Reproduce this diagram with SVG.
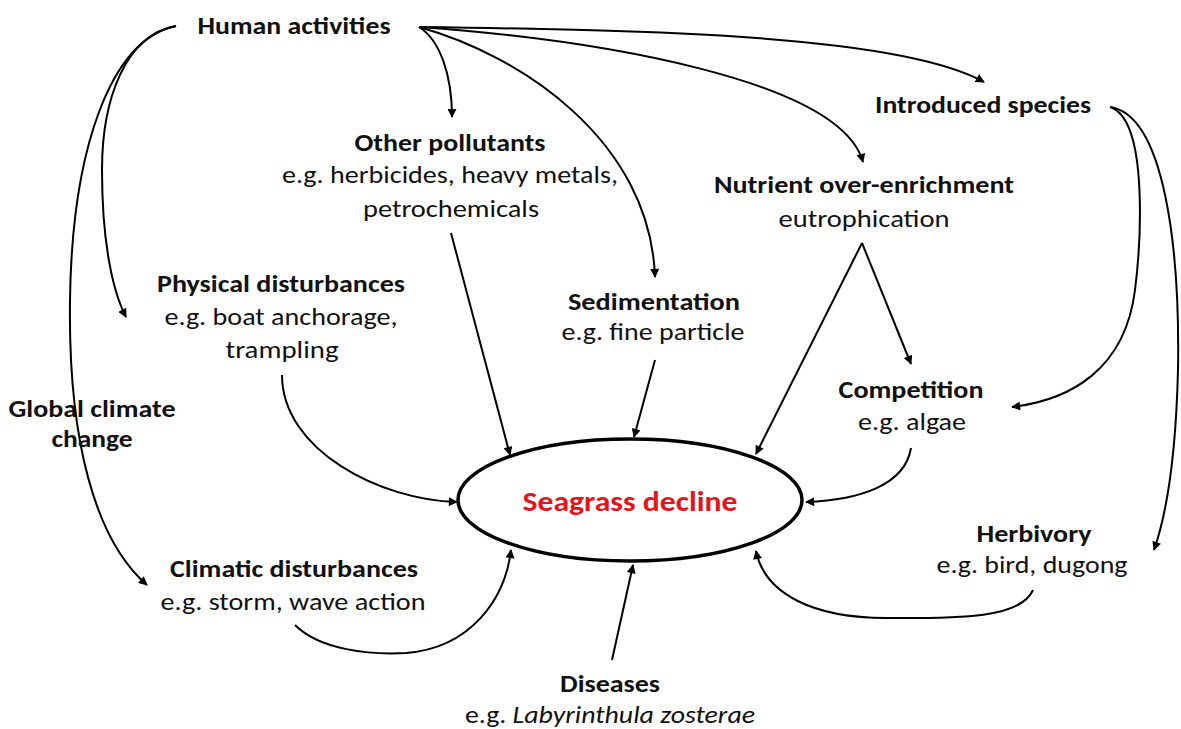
<svg xmlns="http://www.w3.org/2000/svg" width="1181" height="729" viewBox="0 0 1181 729">
<style>
text{font-family:Carlito,Lato,"Open Sans",sans-serif;font-size:25px;fill:#111;text-anchor:middle}
.b{font-weight:bold}
.red{fill:#e3141c;font-size:28px}
.c{fill:none;stroke:#000;stroke-width:2;marker-end:url(#arr)}
.bg{fill:#fff}
</style>
<defs>
<marker id="arr" viewBox="0 0 10 10" refX="9" refY="5" markerWidth="10" markerHeight="9" orient="auto" markerUnits="userSpaceOnUse">
<path d="M0,0 L10,5 L0,10 z" fill="#000"/>
</marker>
</defs>
<rect width="1181" height="729" fill="#fff"/>
<g id="connectors">
<path class="c" d="M419,27 C440,40 452,75 452,117"/>
<path class="c" d="M419,27 C520,55 650,140 655,277"/>
<path class="c" d="M419,27 C600,40 840,80 863,162"/>
<path class="c" d="M419,27 C650,30 900,35 984,82"/>
<path class="c" d="M176,26 C125,35 102,100 102,170 C102,240 112,290 126,317"/>
<path class="c" d="M176,26 C110,40 72,150 70,300 C68,440 95,540 147,585"/>
<path class="c" d="M1110,107 C1150,120 1140,250 1135,290 C1125,370 1070,400 1012,407"/>
<path class="c" d="M1110,107 C1165,115 1180,250 1178,370 C1176,450 1168,510 1154,550"/>
<path class="c" d="M862,243 L756,454"/>
<path class="c" d="M862,243 L911,364"/>
<path class="c" d="M451,233 L510,455"/>
<path class="c" d="M655,360 L634,437"/>
<path class="c" d="M282,375 C282,450 380,500 457,502"/>
<path class="c" d="M911,448 C905,485 860,500 806,502"/>
<path class="c" d="M1033,590 C1020,620 950,618 886,618 C815,618 765,595 756,551"/>
<path class="c" d="M295,625 C320,650 370,655 406,653 C470,648 505,600 511,550"/>
<path class="c" d="M612,660 L633,565"/>
</g>
<g id="seagrass-decline">
<ellipse cx="630" cy="500" rx="172" ry="61" fill="#fff" stroke="#000" stroke-width="3.5"/>
<text class="b red" x="630" y="511" textLength="215" lengthAdjust="spacingAndGlyphs">Seagrass decline</text>
</g>
<g id="human-activities">
<text class="b" x="294" y="34" textLength="193" lengthAdjust="spacingAndGlyphs">Human activities</text>
</g>
<g id="other-pollutants">
<text class="b" x="450" y="151" textLength="191" lengthAdjust="spacingAndGlyphs">Other pollutants</text>
<text x="450" y="183" textLength="336" lengthAdjust="spacingAndGlyphs">e.g. herbicides, heavy metals,</text>
<text x="451" y="217" textLength="176" lengthAdjust="spacingAndGlyphs">petrochemicals</text>
</g>
<g id="introduced-species">
<text class="b" x="983" y="113" textLength="216" lengthAdjust="spacingAndGlyphs">Introduced species</text>
</g>
<g id="nutrient">
<text class="b" x="864" y="193" textLength="300" lengthAdjust="spacingAndGlyphs">Nutrient over-enrichment</text>
<text x="864" y="227" textLength="171" lengthAdjust="spacingAndGlyphs">eutrophication</text>
</g>
<g id="physical-disturbances">
<text class="b" x="281" y="292" textLength="248" lengthAdjust="spacingAndGlyphs">Physical disturbances</text>
<text x="281" y="325" textLength="233" lengthAdjust="spacingAndGlyphs">e.g. boat anchorage,</text>
<text x="282" y="358" textLength="113" lengthAdjust="spacingAndGlyphs">trampling</text>
</g>
<g id="sedimentation">
<text class="b" x="654" y="310" textLength="172" lengthAdjust="spacingAndGlyphs">Sedimentation</text>
<text x="653" y="340" textLength="183" lengthAdjust="spacingAndGlyphs">e.g. fine particle</text>
</g>
<g id="global-climate-change">
<text class="b" x="92" y="417" textLength="167" lengthAdjust="spacingAndGlyphs">Global climate</text>
<text class="b" x="92" y="447" textLength="81" lengthAdjust="spacingAndGlyphs">change</text>
</g>
<g id="competition">
<text class="b" x="911" y="398" textLength="145" lengthAdjust="spacingAndGlyphs">Competition</text>
<text x="912" y="430" textLength="108" lengthAdjust="spacingAndGlyphs">e.g. algae</text>
</g>
<g id="herbivory">
<text class="b" x="1034" y="542" textLength="115" lengthAdjust="spacingAndGlyphs">Herbivory</text>
<text x="1032" y="573" textLength="191" lengthAdjust="spacingAndGlyphs">e.g. bird, dugong</text>
</g>
<g id="climatic-disturbances">
<text class="b" x="294" y="577" textLength="248" lengthAdjust="spacingAndGlyphs">Climatic disturbances</text>
<text x="293" y="610" textLength="265" lengthAdjust="spacingAndGlyphs">e.g. storm, wave action</text>
</g>
<g id="diseases">
<text class="b" x="610" y="692" textLength="100" lengthAdjust="spacingAndGlyphs">Diseases</text>
<text x="610" y="723" textLength="290" lengthAdjust="spacingAndGlyphs">e.g. <tspan font-style="italic">Labyrinthula zosterae</tspan></text>
</g>
</svg>
